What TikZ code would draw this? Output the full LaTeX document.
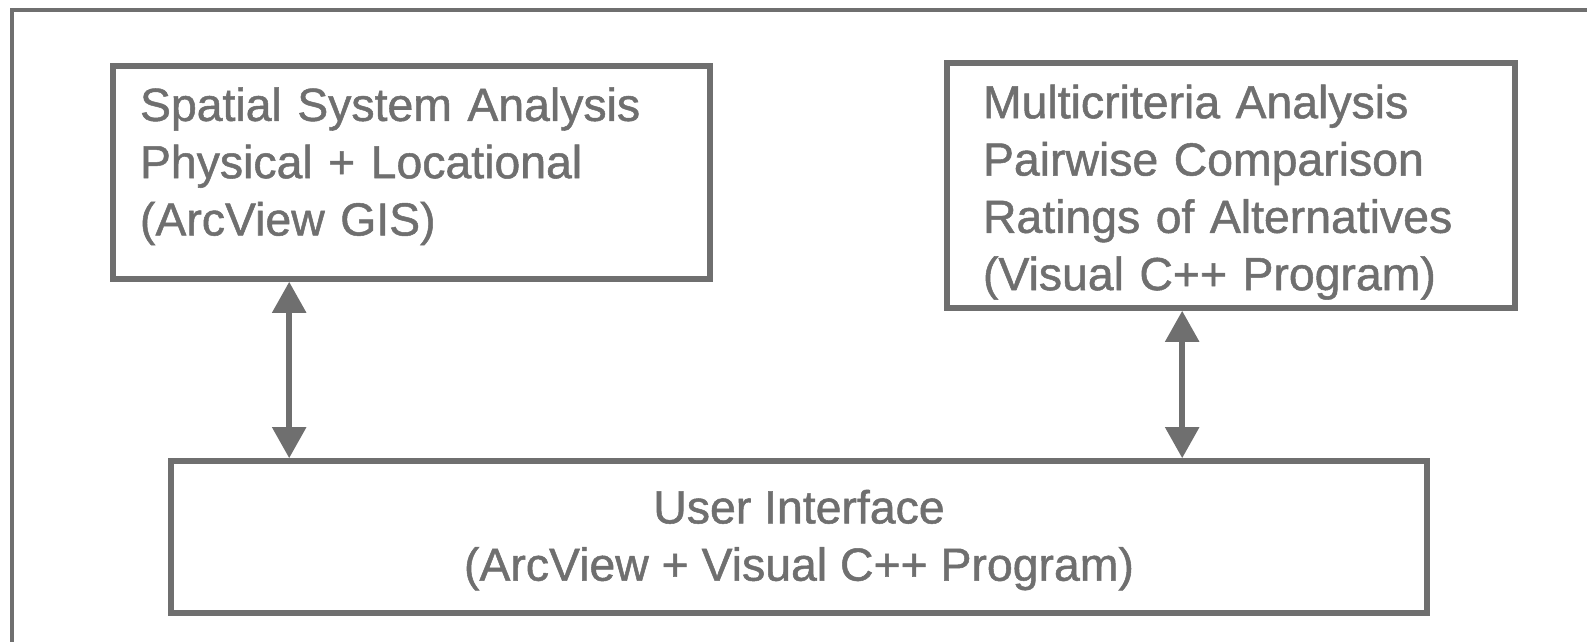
\documentclass[tikz,border=0pt]{standalone}
\usepackage{fontspec}
\setmainfont{Liberation Sans}
\newfontfamily\figfont{Liberation Sans}[FakeBold=1.1]
\usepackage{xcolor}
\definecolor{figGray}{HTML}{6F6F6F}
\usepackage{tikz}
\usetikzlibrary{arrows.meta}

\tikzset{
  modbox/.style={draw=figGray, line width=1.6pt, text=figGray, inner xsep=0pt, inner ysep=0pt,
    font=\figfont\fontsize{13.2}{16.3}\selectfont},
  biarrow/.style={draw=figGray, line width=1.6pt,
    {Triangle[length=0.31cm, width=0.33cm]}-{Triangle[length=0.31cm, width=0.33cm]}}
}

\begin{document}
\begin{tikzpicture}
  \useasboundingbox (0,0) rectangle (15.87,-6.42);
  % ---------------- the frame, cut at the page edge ----------------
  \begin{scope}
    \clip (0,0) rectangle (15.87,-6.42);
    \draw[figGray, line width=1.4pt] (0.12,-0.10) rectangle (16.30,-6.90);
  \end{scope}

  % ---------------- the three modules ----------------
  \node[modbox, minimum width=5.97cm, minimum height=2.13cm, text width=5.43cm, align=left,
        text height=0.21cm]
    (ssa) at (4.115,-1.725)
    {Spatial System Analysis\\Physical + Locational\\(ArcView GIS)};
  \node[modbox, minimum width=5.68cm, minimum height=2.45cm, text width=4.96cm, align=left,
        text height=0.47cm]
    (mca) at (12.31,-1.855)
    {Multicriteria Analysis\\Pairwise Comparison\\Ratings of Alternatives\\(Visual C++ Program)};
  \node[modbox, minimum width=12.56cm, minimum height=1.52cm, align=center,
        text height=0.97cm]
    (ui) at (7.99,-5.37)
    {User Interface\\(ArcView + Visual C++ Program)};

  % ---------------- links to the interface ----------------
  \draw[biarrow] ([xshift=1.79cm]ssa.south west) -- ([xshift=1.79cm]ssa.south west |- ui.north);
  \draw[biarrow] ([xshift=2.38cm]mca.south west) -- ([xshift=2.38cm]mca.south west |- ui.north);
\end{tikzpicture}
\end{document}
